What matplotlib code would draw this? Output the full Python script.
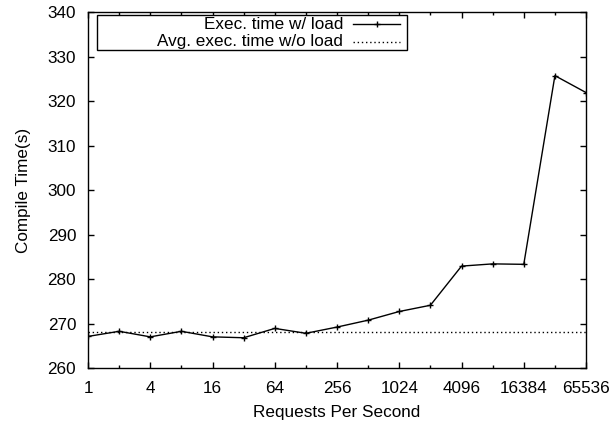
import numpy as np
from matplotlib import pyplot as plt
from matplotlib.lines import Line2D
from matplotlib.patches import Rectangle

# requests per second (powers of two) and measured compile time
rps = [1, 2, 4, 8, 16, 32, 64, 128, 256, 512, 1024, 2048, 4096, 8192, 16384, 32768, 65536]
exec_time = [267.1, 268.25, 267.0, 268.25, 267.0, 266.8, 268.9, 267.8, 269.2, 270.75,
             272.7, 274.1, 282.9, 283.4, 283.3, 325.7, 321.9]
avg_no_load = 268.15

major_x = [4 ** i for i in range(9)]
minor_x = [2 * 4 ** i for i in range(8)]
y_ticks = list(range(260, 341, 10))
labels = ['Exec. time w/ load', 'Avg. exec. time w/o load']


def main():
    plt.rcParams['font.family'] = ['Liberation Sans', 'DejaVu Sans']
    plt.rcParams['font.size'] = 12.3

    fig = plt.figure(figsize=(6.13, 4.23), dpi=100)
    ax = fig.add_axes([0.1436, 0.130, 0.8124, 0.8416])

    ax.plot(rps, exec_time, color='black', lw=1, marker='+', ms=5, mew=1)
    ax.axhline(avg_no_load, color='black', lw=1, ls=(0, (1, 2)))

    ax.set_xscale('log', base=2)
    ax.set_xlim(1, 65536)
    ax.set_ylim(260, 340)
    ax.set_xticks(major_x)
    ax.set_xticklabels([str(t) for t in major_x])
    ax.set_xticks(minor_x, minor=True)
    ax.set_xticklabels([], minor=True)
    ax.set_yticks(y_ticks)
    ax.tick_params(which='major', direction='in', top=True, right=True, length=4.5, width=1)
    ax.tick_params(which='minor', direction='in', top=True, right=True, length=2.5, width=1)
    ax.tick_params(axis='x', which='major', pad=9.5)
    ax.tick_params(axis='y', which='major', pad=8.5)
    for s in ax.spines.values():
        s.set_linewidth(1)

    ax.set_xlabel('Requests Per Second', labelpad=6)
    ax.set_ylabel('Compile Time(s)', labelpad=12)

    # gnuplot-style key: text right aligned, sample to the right
    ax.add_patch(Rectangle((0.018, 0.8933), 0.6226, 0.0983, transform=ax.transAxes,
                           fill=True, facecolor='white', edgecolor='black', lw=1, zorder=5))
    rows = [0.9655, 0.916]
    ax.text(0.512, rows[0], labels[0], transform=ax.transAxes, ha='right', va='center', zorder=6)
    ax.text(0.512, rows[1], labels[1], transform=ax.transAxes, ha='right', va='center', zorder=6)
    ax.add_line(Line2D([0.5321, 0.5793, 0.6265], [rows[0]] * 3, transform=ax.transAxes,
                       color='black', lw=1, marker='+', ms=5, mew=1, markevery=[1], zorder=6))
    ax.add_line(Line2D([0.5321, 0.6265], [rows[1]] * 2, transform=ax.transAxes,
                       color='black', lw=1, ls=(0, (1, 2)), zorder=6))

    plt.savefig('out.png', dpi=100)


if __name__ == '__main__':
    main()
